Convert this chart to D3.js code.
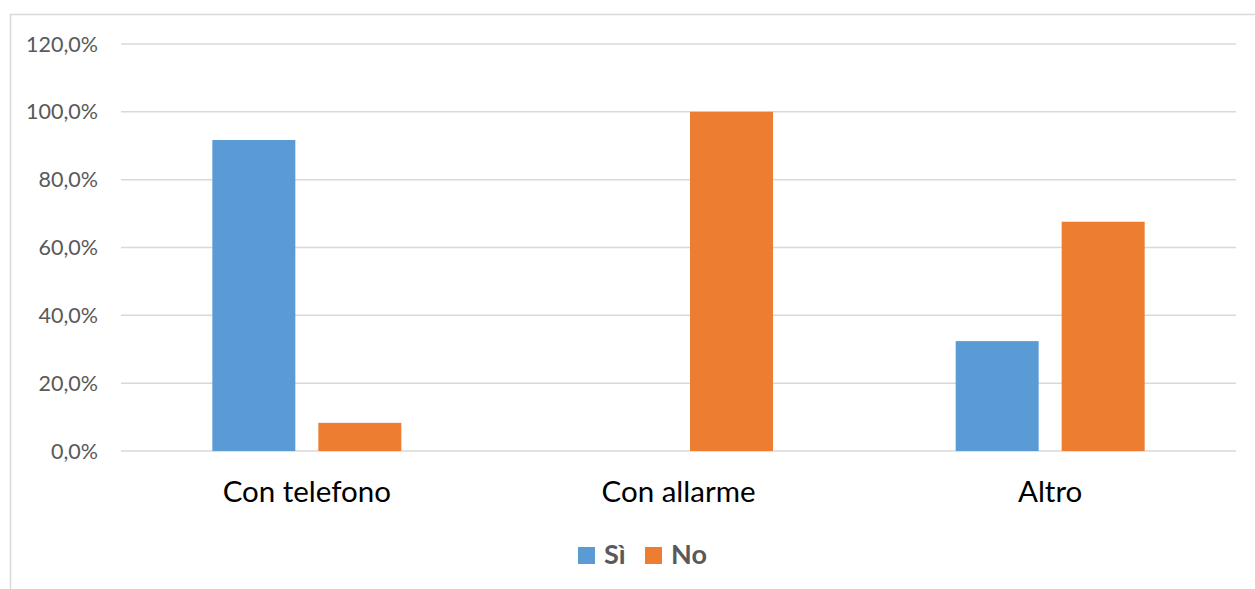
<!DOCTYPE html>
<html>
<head>
<meta charset="utf-8">
<script src="https://cdn.jsdelivr.net/npm/d3@7"></script>
<style>
  html, body { margin: 0; padding: 0; background: #fff; }
  svg { display: block; font-family: Lato, "Open Sans", sans-serif; }
</style>
</head>
<body>
<div id="app"></div>
<script>
const categories = ['Con telefono', 'Con allarme', 'Altro'];
const seriesNames = ['Sì', 'No'];
const siValues = [91.7, 0, 32.4];
const noValues = [8.3, 100, 67.6];
const yTicks = [0, 20, 40, 60, 80, 100, 120];
const colors = ['#5b9bd5', '#ed7d31'];

const WIDTH = 1255, HEIGHT = 589;
const plot = { left: 121, right: 1236, top: 44, bottom: 451 };

const rows = categories.map((c, i) => ({ cat: c, values: [siValues[i], noValues[i]] }));

const svg = d3.select('#app')
  .append('svg')
    .attr('width', WIDTH)
    .attr('height', HEIGHT);

// chart frame (runs off the right and bottom edges in the original)
svg.append('rect')
  .attr('x', 10.5).attr('y', 14.5)
  .attr('width', 1300).attr('height', 700)
  .attr('fill', 'none')
  .attr('stroke', '#d9d9d9')
  .attr('stroke-width', 1.5);

const y = d3.scaleLinear()
  .domain([0, 120])
  .range([plot.bottom, plot.top]);

const x0 = d3.scaleBand()
  .domain(categories)
  .range([plot.left, plot.right]);

// two bars of 83px with a 23px gap inside a 372px band
const barW = 83, gap = 23;
const x1 = d3.scaleOrdinal()
  .domain(seriesNames)
  .range([-(barW + gap / 2), gap / 2]);

// gridlines
svg.append('g')
  .selectAll('line')
  .data(yTicks)
  .enter()
  .append('line')
    .attr('x1', plot.left)
    .attr('x2', plot.right)
    .attr('y1', d => y(d))
    .attr('y2', d => y(d))
    .attr('stroke', '#d9d9d9')
    .attr('stroke-width', 1.5);

// y axis labels
const fmt = d => d3.format('.1f')(d).replace('.', ',') + '%';
svg.append('g')
  .selectAll('text')
  .data(yTicks)
  .enter()
  .append('text')
    .attr('x', 98)
    .attr('y', d => y(d))
    .attr('dy', '0.35em')
    .attr('text-anchor', 'end')
    .attr('fill', '#595959')
    .style('font-size', '21.5px')
    .text(fmt);

// bars
const groups = svg.append('g')
  .selectAll('g')
  .data(rows)
  .enter()
  .append('g')
    .attr('transform', d => `translate(${x0(d.cat) + x0.bandwidth() / 2},0)`);

groups.selectAll('rect')
  .data(d => d.values.map((v, i) => ({ name: seriesNames[i], v, i })))
  .enter()
  .append('rect')
    .attr('x', d => x1(d.name))
    .attr('y', d => y(d.v))
    .attr('width', barW)
    .attr('height', d => y(0) - y(d.v))
    .attr('fill', d => colors[d.i]);

// category labels
svg.append('g')
  .selectAll('text')
  .data(categories)
  .enter()
  .append('text')
    .attr('x', d => x0(d) + x0.bandwidth() / 2)
    .attr('y', 502)
    .attr('text-anchor', 'middle')
    .attr('fill', '#000')
    .style('font-size', '29.5px')
    .text(d => d);

// legend
const legendX = [578, 645];
const legend = svg.append('g')
  .selectAll('g')
  .data(seriesNames)
  .enter()
  .append('g')
    .attr('transform', (d, i) => `translate(${legendX[i]},547)`);

legend.append('rect')
  .attr('width', 17)
  .attr('height', 17)
  .attr('fill', (d, i) => colors[i]);

legend.append('text')
  .attr('x', 26)
  .attr('y', 17)
  .attr('fill', '#595959')
  .style('font-size', '27px')
  .style('font-weight', 'bold')
  .text(d => d);
</script>
</body>
</html>
